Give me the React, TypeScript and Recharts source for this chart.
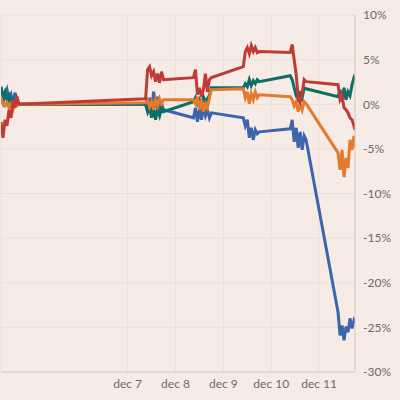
import React from 'react';
import { LineChart, Line, XAxis, YAxis, CartesianGrid } from 'recharts';

// time in days of december (fractional), six trading sessions
const times = [
  4.354, 4.396, 4.438, 4.479, 4.521, 4.563, 4.604, 4.646, 4.688, 4.729,
  7.375, 7.417, 7.458, 7.5, 7.542, 7.583, 7.625, 7.667, 7.708, 7.75,
  8.375, 8.417, 8.458, 8.5, 8.542, 8.583, 8.625, 8.667, 8.708, 8.75,
  9.417, 9.458, 9.5, 9.542, 9.583, 9.625, 9.667, 9.708, 9.75,
  10.396, 10.438, 10.479, 10.521, 10.563, 10.604, 10.646, 10.688, 10.729,
  11.396, 11.438, 11.479, 11.521, 11.563, 11.604, 11.646, 11.688, 11.729, 11.75,
];

// percent change per series
const redSeries = [
  -1.97, -3.76, -1.74, -2.42, -0.62, -1.52, 0.51, -0.39, 0.84, 0.0,
  0.62, 3.88, 4.21, 3.2, 3.65, 2.53, 3.43, 2.42, 3.65, 2.75,
  2.98, 3.88, 1.07, 1.85, 0.84, 1.63, 3.43, 1.4, 2.75, 2.98,
  4.21, 5.9, 6.35, 5.67, 6.57, 5.9, 6.35, 5.79, 5.9,
  5.79, 6.69, 5.0, 3.31, 0.73, 0.28, 1.18, 2.75, 2.53,
  2.19, 0.51, 0.96, -0.39, -0.62, -0.96, -1.52, -1.74, -2.42, -2.87,
];

const blueSeries = [
  0.51, 0.06, 0.96, 1.63, 0.51, 1.07, 0.06, 1.29, 0.51, 0.0,
  0.0, -0.62, 0.73, -0.84, 1.4, -0.39, 0.84, -1.18, 0.06, -0.62,
  -1.52, -0.39, -1.97, -0.62, -1.74, -0.28, -1.29, -0.62, -1.52, -0.96,
  -1.52, -2.42, -1.74, -3.76, -2.64, -3.99, -2.87, -3.31, -3.09,
  -2.75, -1.74, -4.21, -2.64, -4.89, -3.09, -5.11, -3.54, -3.99,
  -23.31, -25.9, -24.78, -26.46, -24.89, -25.56, -23.99, -25.11, -24.21, -24.44,
];

const tealSeries = [
  1.97, 0.84, 1.4, 0.51, 0.96, 0.06, 0.51, -0.06, 0.28, 0.0,
  0.0, -0.84, -0.17, -1.52, -0.39, -1.74, -0.62, -1.29, -0.39, -0.84,
  0.28, 0.73, 0.06, 0.51, -0.17, 0.84, 0.28, 0.62, 0.96, 1.85,
  1.85, 2.3, 1.97, 2.75, 2.08, 2.64, 2.3, 2.75, 2.53,
  3.2, 2.75, 1.85, 0.96, 0.51, 1.18, 0.73, 1.85, 1.74,
  0.84, 1.63, 0.28, 1.85, 0.51, 1.4, 0.96, 2.19, 2.98, 2.75,
];

const orangeSeries = [
  0.73, 0.06, -0.17, 0.17, -0.39, 0.06, -0.62, 0.06, -0.17, 0.0,
  0.17, 0.51, -0.28, 0.28, -0.62, 0.51, -0.17, 0.62, 0.06, 0.51,
  0.51, 0.06, 0.84, -0.62, 0.51, -0.84, 0.06, -0.39, 0.73, 1.63,
  1.74, 0.73, 1.4, 0.06, 1.18, 0.51, 1.4, 0.73, 1.07,
  0.84, 0.51, -0.17, 0.28, -0.84, 0.06, -0.62, 0.28, 0.06,
  -5.45, -7.36, -5.11, -8.15, -6.01, -7.13, -3.99, -5.11, -3.54, -4.78,
];

const xTicks = [7, 8, 9, 10, 11];
const yTicks = [-30, -25, -20, -15, -10, -5, 0, 5, 10];

const data = times.map((t, i) => ({
  t,
  red: redSeries[i],
  blue: blueSeries[i],
  teal: tealSeries[i],
  orange: orangeSeries[i],
}));

const tickStyle = { fontSize: 12, fill: '#6f6a68', fontFamily: 'Lato, sans-serif' };

export default function App() {
  return (
    <div style={{ position: 'absolute', left: 0, top: 0, width: 400, height: 400, background: '#f6ebe5' }}>
      <LineChart width={400} height={400} data={data} margin={{ top: 15, right: 0, bottom: 0, left: 1 }}>
        <CartesianGrid stroke="#eee0d7" strokeWidth={1} verticalPoints={undefined} />
        <XAxis
          dataKey="t"
          type="number"
          domain={[4.354, 11.75]}
          ticks={xTicks}
          tickFormatter={(v) => `dec ${v}`}
          allowDataOverflow
          height={28}
          tickSize={0}
          tickMargin={7}
          stroke="#d9cbc3"
          tick={tickStyle}
        />
        <YAxis
          orientation="right"
          type="number"
          domain={[-30, 10]}
          ticks={yTicks}
          tickFormatter={(v) => `${v}%`}
          width={45}
          tickSize={0}
          tickMargin={8}
          stroke="#d9cbc3"
          tick={{ ...tickStyle, textAnchor: 'start' }}
        />
        <Line type="linear" dataKey="blue" stroke="#3d65ad" strokeWidth={3} dot={false} isAnimationActive={false} />
        <Line type="linear" dataKey="teal" stroke="#0c6e66" strokeWidth={3} dot={false} isAnimationActive={false} />
        <Line type="linear" dataKey="orange" stroke="#e47a2b" strokeWidth={3} dot={false} isAnimationActive={false} />
        <Line type="linear" dataKey="red" stroke="#c03b35" strokeWidth={3} dot={false} isAnimationActive={false} />
      </LineChart>
    </div>
  );
}
